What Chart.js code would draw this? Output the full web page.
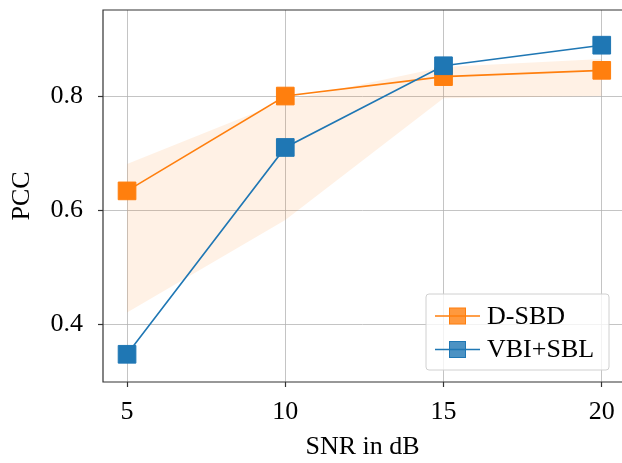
<!DOCTYPE html>
<html>
<head>
<meta charset="utf-8">
<script src="https://cdn.jsdelivr.net/npm/chart.js@4.4.1/dist/chart.umd.min.js"></script>
<style>
  html, body { margin: 0; padding: 0; background: #fff; }
  canvas { display: block; }
</style>
</head>
<body>
<canvas id="pccChart" width="622" height="463"></canvas>
<script>
// values
const snr = [5, 10, 15, 20];
const dsbd = [0.634, 0.800, 0.834, 0.845];
const vbiSbl = [0.348, 0.710, 0.853, 0.889];
const dsbdUpper = [0.681, 0.792, 0.851, 0.865];
const dsbdLower = [0.421, 0.583, 0.796, 0.800];
const xTicks = [5, 10, 15, 20];
const yTicks = [0.4, 0.6, 0.8];

const ORANGE = '#ff7f0e';
const BLUE = '#1f77b4';
const FONT = "'Liberation Serif', 'Times New Roman', serif";

function pts(ys) {
    return snr.map((x, i) => ({x: x, y: ys[i]}));
}

// box frame (left, top, bottom; right spine is cut off by the crop)
const framePlugin = {
    id: 'frame',
    afterDatasetsDraw(chart) {
        const {ctx, chartArea: a} = chart;
        ctx.save();
        ctx.strokeStyle = '#333';
        ctx.lineWidth = 1.2;
        ctx.beginPath();
        ctx.moveTo(a.right + 2, a.top);
        ctx.lineTo(a.left, a.top);
        ctx.lineTo(a.left, a.bottom);
        ctx.lineTo(a.right + 2, a.bottom);
        ctx.stroke();
        ctx.restore();
    }
};

// matplotlib-style legend in the lower right of the axes
const legendPlugin = {
    id: 'boxLegend',
    afterDraw(chart) {
        const {ctx, chartArea: a} = chart;
        const items = chart.data.datasets.filter(d => d.inLegend)
            .sort((p, q) => p.legendRank - q.legendRank);
        const w = 183, h = 76;
        const x0 = 426, y0 = a.bottom - 12 - h;
        ctx.save();
        ctx.beginPath();
        ctx.roundRect(x0, y0, w, h, 3);
        ctx.fillStyle = 'rgba(255,255,255,0.8)';
        ctx.fill();
        ctx.strokeStyle = '#d0d0d0';
        ctx.lineWidth = 1;
        ctx.stroke();
        items.forEach((d, i) => {
            const cy = y0 + 22 + i * 33.5;
            ctx.strokeStyle = d.borderColor;
            ctx.lineWidth = 1.5;
            ctx.beginPath();
            ctx.moveTo(x0 + 9, cy);
            ctx.lineTo(x0 + 54, cy);
            ctx.stroke();
            ctx.globalAlpha = 0.8;
            ctx.fillStyle = d.pointBackgroundColor;
            ctx.fillRect(x0 + 23.5, cy - 8, 16, 16);
            ctx.globalAlpha = 1;
            ctx.strokeStyle = d.borderColor;
            ctx.lineWidth = 1;
            ctx.strokeRect(x0 + 23.5, cy - 8, 16, 16);
            ctx.fillStyle = '#000';
            ctx.font = '26px ' + FONT;
            ctx.textBaseline = 'middle';
            ctx.textAlign = 'left';
            ctx.fillText(d.label, x0 + 61, cy + 1);
        });
        ctx.restore();
    }
};

new Chart(document.getElementById('pccChart'), {
    type: 'scatter',
    data: {
        datasets: [
            {
                label: 'VBI+SBL',
                data: pts(vbiSbl),
                showLine: true,
                borderColor: BLUE,
                backgroundColor: BLUE,
                pointBackgroundColor: BLUE,
                borderWidth: 1.6,
                pointStyle: 'rect',
                pointRadius: 12.5,
                pointHoverRadius: 12.5,
                pointBorderWidth: 1,
                inLegend: true,
                legendRank: 2,
                order: 0
            },
            {
                label: 'D-SBD',
                data: pts(dsbd),
                showLine: true,
                borderColor: ORANGE,
                backgroundColor: ORANGE,
                pointBackgroundColor: ORANGE,
                borderWidth: 1.6,
                pointStyle: 'rect',
                pointRadius: 12.5,
                pointHoverRadius: 12.5,
                pointBorderWidth: 1,
                inLegend: true,
                legendRank: 1,
                order: 1
            },
            {
                label: 'band upper',
                data: pts(dsbdUpper),
                showLine: true,
                borderWidth: 0,
                borderColor: 'rgba(0,0,0,0)',
                pointRadius: 0,
                backgroundColor: 'rgba(255,127,14,0.11)',
                fill: '+1',
                order: 2
            },
            {
                label: 'band lower',
                data: pts(dsbdLower),
                showLine: true,
                borderWidth: 0,
                borderColor: 'rgba(0,0,0,0)',
                pointRadius: 0,
                fill: false,
                order: 3
            }
        ]
    },
    options: {
        responsive: false,
        devicePixelRatio: 1,
        animation: false,
        layout: { autoPadding: false, padding: { top: 10, left: 0, right: 0, bottom: 0 } },
        plugins: {
            legend: { display: false },
            tooltip: { enabled: false }
        },
        scales: {
            x: {
                type: 'linear',
                min: 4.24,
                max: 20.64,
                afterBuildTicks: s => { s.ticks = xTicks.map(v => ({value: v})); },
                afterFit: s => { s.height = 81; s.paddingLeft = 0; s.paddingRight = 0; },
                border: { display: false },
                grid: {
                    color: 'rgba(176,176,176,0.75)',
                    lineWidth: 1,
                    tickLength: 5,
                    tickColor: '#333',
                    tickWidth: 1.2
                },
                ticks: {
                    color: '#000',
                    padding: 10,
                    font: { family: FONT, size: 26 },
                    callback: v => String(v)
                },
                title: {
                    display: true,
                    text: 'SNR in dB',
                    color: '#000',
                    padding: { top: 2, bottom: 0 },
                    font: { family: FONT, size: 26 }
                }
            },
            y: {
                type: 'linear',
                min: 0.2995,
                max: 0.9506,
                afterBuildTicks: s => { s.ticks = yTicks.map(v => ({value: v})); },
                afterFit: s => { s.width = 103; s.paddingTop = 0; s.paddingBottom = 0; },
                border: { display: false },
                grid: {
                    color: 'rgba(176,176,176,0.75)',
                    lineWidth: 1,
                    tickLength: 5,
                    tickColor: '#333',
                    tickWidth: 1.2
                },
                ticks: {
                    color: '#000',
                    padding: 15,
                    font: { family: FONT, size: 26 },
                    callback: v => v.toFixed(1)
                },
                title: {
                    display: true,
                    text: 'PCC',
                    color: '#000',
                    padding: { top: 7 },
                    font: { family: FONT, size: 26 }
                }
            }
        }
    },
    plugins: [framePlugin, legendPlugin]
});
</script>
</body>
</html>
